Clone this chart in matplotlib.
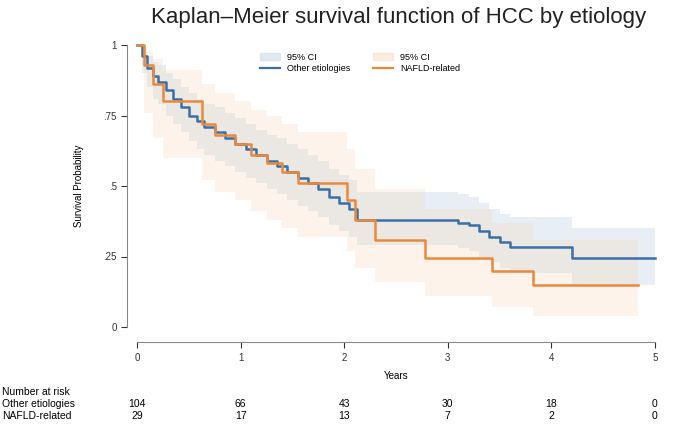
import numpy as np
import matplotlib
matplotlib.use('Agg')
import matplotlib.pyplot as plt
from matplotlib.patches import Patch
from matplotlib.lines import Line2D

plt.rcParams['font.family'] = ['Liberation Sans', 'DejaVu Sans']

# Other etiologies (KM estimate and 95% CI)
other_t = [0, .05, .10, .15, .20, .28, .35, .42, .50, .58, .65, .75, .85, .95, 1.05, 1.15,
           1.25, 1.35, 1.45, 1.55, 1.65, 1.75, 1.85, 1.95, 2.05, 2.12, 3.10, 3.20, 3.30,
           3.40, 3.50, 3.60, 4.20, 5.0]
other_s = [1, .96, .92, .89, .87, .84, .81, .78, .75, .73, .71, .69, .67, .65, .63, .61,
           .59, .57, .55, .53, .51, .49, .46, .44, .42, .38, .37, .36, .34, .32, .30, .285,
           .245, .245]
other_lo = [1, .90, .85, .81, .79, .75, .72, .69, .66, .63, .61, .59, .57, .55, .53, .51,
            .49, .47, .45, .43, .41, .39, .36, .34, .32, .29, .28, .27, .25, .23, .21, .19,
            .15, .15]
other_hi = [1, .99, .96, .94, .93, .90, .88, .85, .83, .81, .79, .78, .76, .74, .72, .70,
            .68, .67, .65, .63, .61, .59, .56, .54, .52, .48, .47, .46, .44, .42, .40, .39,
            .35, .35]

# NAFLD-related
nafld_t = [0, .07, .15, .25, .63, .75, .95, 1.10, 1.25, 1.40, 1.55, 2.03, 2.10, 2.30,
           2.78, 3.43, 3.82, 4.84]
nafld_s = [1, .93, .86, .80, .72, .68, .65, .61, .58, .55, .51, .45, .38, .31, .245, .20,
           .15, .15]
nafld_lo = [1, .76, .67, .60, .52, .48, .45, .41, .38, .35, .32, .27, .21, .16, .11, .07,
            .04, .04]
nafld_hi = [1, .98, .95, .91, .86, .83, .80, .77, .75, .72, .69, .63, .56, .49, .42, .37,
            .31, .31]

risk_years = [0, 1, 2, 3, 4, 5]
risk_other = [104, 66, 43, 30, 18, 0]
risk_nafld = [29, 17, 13, 7, 2, 0]

blue = '#3b6fa8'
orange = '#e8893b'

W, H = 676, 433
fig = plt.figure(figsize=(W / 100, H / 100), dpi=100)
ax = fig.add_axes([137 / W, (H - 327) / H, (655 - 137) / W, 282 / H])

ax.fill_between(other_t, other_lo, other_hi, step='post', color='#c4d6e6', alpha=0.4, lw=0)
ax.fill_between(nafld_t, nafld_lo, nafld_hi, step='post', color='#f9d3b0', alpha=0.25, lw=0)
ax.step(other_t, other_s, where='post', color=blue, lw=1.8, clip_on=False)
ax.step(nafld_t, nafld_s, where='post', color=orange, lw=1.8, clip_on=False)

ax.set_xlim(0, 5)
ax.set_ylim(0, 1)
ax.set_xticks(risk_years)
ax.set_xticklabels([str(v) for v in risk_years])
ax.set_yticks([0, .25, .5, .75, 1])
ax.set_yticklabels(['0', '.25', '.5', '.75', '1'])
ax.tick_params(labelsize=7, colors='#333333', length=4, width=0.8)
for s in ['top', 'right']:
    ax.spines[s].set_visible(False)
ax.spines['left'].set_position(('outward', 7))
ax.spines['bottom'].set_position(('outward', 11))
for s in ['left', 'bottom']:
    ax.spines[s].set_color('#888888')
ax.set_xlabel('Years', fontsize=7, labelpad=6)
ax.set_ylabel('Survival Probability', fontsize=7, labelpad=14)

fig.text(399 / W, 1 - 18 / H, 'Kaplan\u2013Meier survival function of HCC by etiology',
         ha='center', va='center', fontsize=16, color='#222222')

handles = [Patch(color='#c4d6e6', alpha=0.5), Line2D([], [], color=blue, lw=1.6),
           Patch(color='#f9d3b0', alpha=0.4), Line2D([], [], color=orange, lw=1.6)]
labels = ['95% CI', 'Other etiologies', '95% CI', 'NAFLD-related']
ax.legend(handles, labels, ncol=2, frameon=False, fontsize=6.5, loc='center',
          bbox_to_anchor=((360 - 137) / (655 - 137), (327 - 63) / 282),
          handlelength=2.2, columnspacing=2.5, labelspacing=0.3)

# number at risk table
def xpix(v):
    return (137 + v * (655 - 137) / 5) / W

fig.text(2 / W, 1 - 392 / H, 'Number at risk', fontsize=7.5, va='center')
fig.text(2 / W, 1 - 404 / H, 'Other etiologies', fontsize=7.5, va='center')
fig.text(2 / W, 1 - 416 / H, 'NAFLD-related', fontsize=7.5, va='center')
for yr, a, b in zip(risk_years, risk_other, risk_nafld):
    fig.text(xpix(yr), 1 - 404 / H, str(a), fontsize=7.5, ha='center', va='center')
    fig.text(xpix(yr), 1 - 416 / H, str(b), fontsize=7.5, ha='center', va='center')

fig.savefig('out.png', dpi=100)
